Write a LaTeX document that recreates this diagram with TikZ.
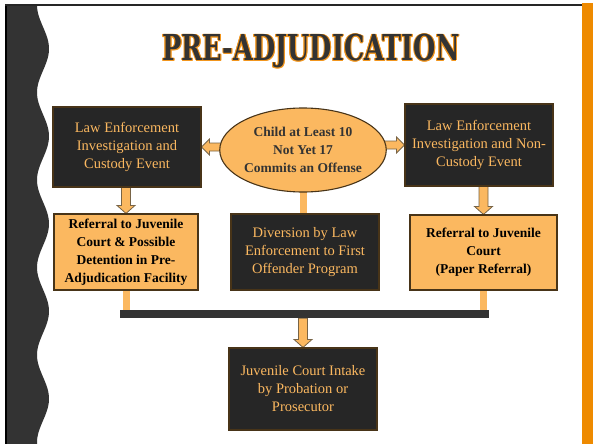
\documentclass[tikz,border=0pt]{standalone}
\usepackage{graphicx}
\usepackage{fontspec}
\setmainfont{Liberation Serif}
\newfontfamily\titlefont{DejaVu Serif}
\usetikzlibrary{calc,shapes.geometric}
\pgfdeclarelayer{back}
\pgfdeclarelayer{bg}
\pgfsetlayers{back,bg,main}
\definecolor{cdark}{RGB}{38,38,38}
\definecolor{cwave}{RGB}{51,51,51}
\definecolor{lorange}{RGB}{251,184,96}
\definecolor{bordc}{RGB}{72,52,24}
\definecolor{barorange}{RGB}{238,138,0}
\definecolor{titlefill}{RGB}{51,51,51}
\definecolor{titleout}{RGB}{242,150,30}
\definecolor{arrowout}{RGB}{120,100,70}
\newcommand\TitleBox{\resizebox{297pt}{26.5pt}{\titlefont\bfseries PRE-ADJUDICATION}}
\newcommand\otcopy[2]{\rlap{\kern#1\raisebox{#2}{\color{titleout}\TitleBox}}}
\newcommand\varrow[2]{%
  \draw[barrow] ($(#1)+(-4.5,0)$) -- ($(#2)+(-4.5,-8)$) -- ($(#2)+(-9,-8)$) -- (#2)
    -- ($(#2)+(9,-8)$) -- ($(#2)+(4.5,-8)$) -- ($(#1)+(4.5,0)$) -- cycle;}
\newcommand\harrow[3]{%
  \draw[barrow] ($(#1)+(0,-4)$) -- ($(#2)+(#3,-4)$) -- ($(#2)+(#3,-8)$) -- (#2)
    -- ($(#2)+(#3,8)$) -- ($(#2)+(#3,4)$) -- ($(#1)+(0,4)$) -- cycle;}
\tikzset{
  darkbox/.style={draw=bordc, line width=1.1pt, fill=cdark, text=lorange,
    font=\fontsize{14.5}{18}\selectfont, align=center, inner sep=0pt},
  orangebox/.style={draw=bordc, line width=1.1pt, fill=lorange, text=black,
    font=\fontsize{13.5}{18}\selectfont\bfseries, align=center, inner sep=0pt},
  barrow/.style={fill=lorange, draw=arrowout, line width=0.8pt, line join=miter},
  oline/.style={draw=lorange, line width=7pt},
}
\begin{document}
\begin{tikzpicture}[x=1pt,y=-1pt]
\useasboundingbox (0,0) rectangle (594,444);
\begin{pgfonlayer}{back}
\fill[white] (0,0) rectangle (594,444);
\fill[cwave] (7,6) -- plot[domain=6:444, samples=160, variable=\t] ({43-6*cos(4.1142857*(\t-5))},\t) -- (7,444) -- cycle;
\fill[black] (5,4) rectangle (7,444);
\fill[black!85] (5,4) rectangle (583,6);
\fill[barorange] (582,3.5) rectangle (593,444);
\end{pgfonlayer}

\node[anchor=base, inner sep=0pt] (title) at (311,61)
  {\otcopy{-1pt}{0pt}\otcopy{1pt}{0pt}\otcopy{0pt}{1pt}\otcopy{0pt}{-1pt}%
   \otcopy{-.7pt}{.7pt}\otcopy{.7pt}{.7pt}\otcopy{-.7pt}{-.7pt}\otcopy{.7pt}{-.7pt}%
   {\color{titlefill}\TitleBox}};

\node[darkbox, minimum width=148pt, minimum height=80pt] (le1) at (127,147)
  {Law Enforcement\\Investigation and\\Custody Event};
\node[ellipse, draw=bordc, line width=1.1pt, fill=lorange, minimum width=142pt,
  minimum height=84pt, inner sep=0pt, text=titlefill,
  font=\fontsize{13.5}{18}\selectfont\bfseries, align=center] (child) at (303,150)
  {Child at Least 10\\Not Yet 17\\Commits an Offense};
\node[darkbox, minimum width=148pt, minimum height=82pt] (le2) at (479,145)
  {Law Enforcement\\Investigation and Non-\\Custody Event};
\node[orangebox, minimum width=144pt, minimum height=76pt] (ref1) at (126,252)
  {Referral to Juvenile\\Court \& Possible\\Detention in Pre-\\Adjudication Facility};
\node[darkbox, minimum width=148pt, minimum height=76pt] (div) at (305,252)
  {Diversion by Law\\Enforcement to First\\Offender Program};
\node[orangebox, minimum width=147pt, minimum height=75pt] (ref2) at (483.5,252.5)
  {Referral to Juvenile\\Court\\(Paper Referral)};
\node[fill=cwave, minimum width=369pt, minimum height=8pt, inner sep=0pt] (bar) at (304.5,314) {};
\node[darkbox, minimum width=148pt, minimum height=82pt] (intake) at (303,389)
  {Juvenile Court Intake\\by Probation or\\Prosecutor};

\begin{pgfonlayer}{bg}
\path (child.west |- le1.east) ++(3,0) coordinate (cl);
\path (child.east |- le2.west) ++(-3,0) coordinate (cr);
\path (ref1.north |- le1.south) coordinate (d1);
\path (ref2.north |- le2.south) coordinate (d2);
\path (intake.north |- bar.south) coordinate (d3);
\harrow{cl}{le1.east}{8}
\harrow{cr}{le2.west}{-8}
\varrow{d1}{ref1.north}
\varrow{d2}{ref2.north}
\varrow{d3}{intake.north}
\draw[oline] (child.south) ++(0,-3) -- (child.south |- div.north);
\draw[oline] (ref1.south) -- (ref1.south |- bar.north);
\draw[oline] (ref2.south) -- (ref2.south |- bar.north);
\end{pgfonlayer}
\end{tikzpicture}
\end{document}
